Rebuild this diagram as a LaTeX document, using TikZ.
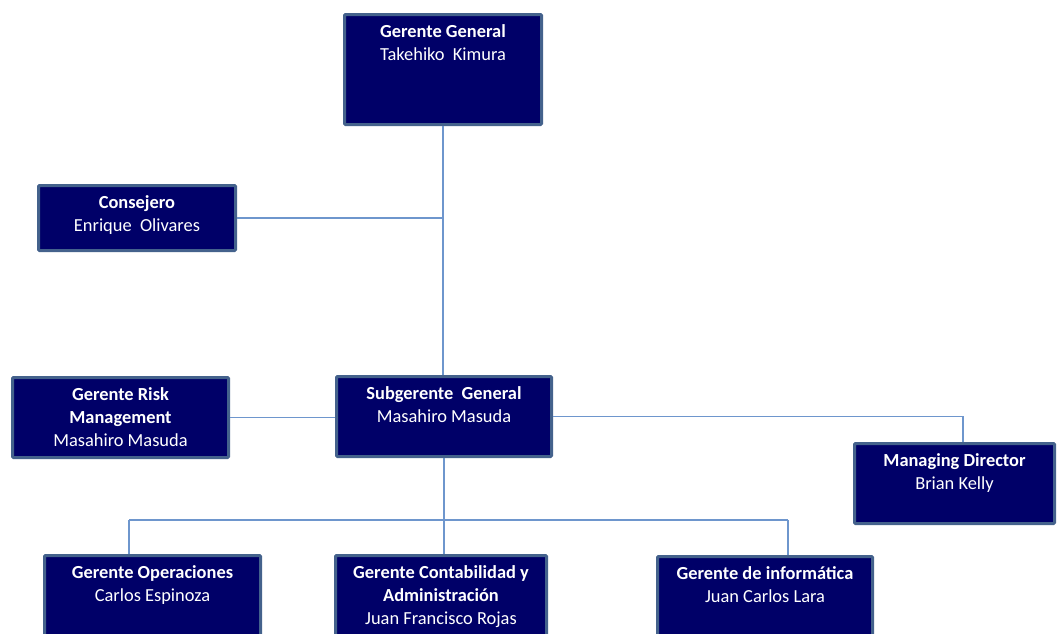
\documentclass[tikz,border=0pt]{standalone}
\usepackage{fontspec}
\setmainfont{Carlito}
\usetikzlibrary{calc}
\newlength\pxu \setlength\pxu{0.75pt}
\definecolor{boxfill}{RGB}{0,0,104}
\definecolor{boxline}{RGB}{68,98,140}
\definecolor{connblue}{RGB}{110,150,205}
\newcommand\bxt[3]{\parbox[c][#2\pxu][t]{#1\pxu}{\centering\fontsize{13.8}{17.25}\selectfont\vspace*{10.5\pxu}#3\par}}
\tikzset{
  orgbox/.style={draw=boxline, line width=2.25pt, fill=boxfill, text=white, inner sep=0pt, rounded corners=0.8pt},
  conn/.style={draw=connblue, line width=1.1pt}
}
\begin{document}
\begin{tikzpicture}[x=0.75pt, y=-0.75pt]
\useasboundingbox (0,0) rectangle (1057,633);
\clip (0,0) rectangle (1057,633);
\fill[white] (0,0) rectangle (1057,633);
% boxes
\node[orgbox] (gg) at (443,69.5) {\bxt{197}{110}{\textbf{Gerente General}\\Takehiko\hspace{0.45em}Kimura}};
\node[orgbox] (cons) at (137,218) {\bxt{197}{65}{\textbf{Consejero}\\Enrique\hspace{0.45em}Olivares}};
\node[orgbox] (risk) at (120.5,417.5) {\bxt{216}{80}{\textbf{Gerente Risk}\\\textbf{Management}\\Masahiro Masuda}};
\node[orgbox] (sub) at (444,416.5) {\bxt{215}{80}{\textbf{Subgerente\hspace{0.45em}General}\\Masahiro Masuda}};
\node[orgbox] (md) at (954.5,483.5) {\bxt{200}{80}{\textbf{Managing Director}\\Brian Kelly}};
\node[orgbox] (ops) at (152.5,595.5) {\bxt{216}{80}{\textbf{Gerente Operaciones}\\Carlos Espinoza}};
\node[orgbox] (cont) at (441,595.5) {\bxt{211}{80}{\textbf{Gerente Contabilidad y}\\\textbf{Administración}\\Juan Francisco Rojas}};
\node[orgbox] (inf) at (765,596.5) {\bxt{215}{80}{\textbf{Gerente de informática}\\Juan Carlos Lara}};
% connectors
\coordinate (busL) at (129,520);
\coordinate (busR) at (788,520);
\coordinate (mdj) at ($(md.north)+(8.5,0)$);
\draw[conn] (gg.south) -- (gg.south |- sub.north);
\draw[conn] (cons.east) -- (cons.east -| gg.south);
\draw[conn] (risk.east) -- (risk.east -| sub.west);
\draw[conn] (sub.east) -| (mdj);
\draw[conn] (sub.south) -- (sub.south |- cont.north);
\draw[conn] (busL) -- (busR);
\draw[conn] (busL) -- (busL |- ops.north);
\draw[conn] (busR) -- (busR |- inf.north);
\end{tikzpicture}
\end{document}
